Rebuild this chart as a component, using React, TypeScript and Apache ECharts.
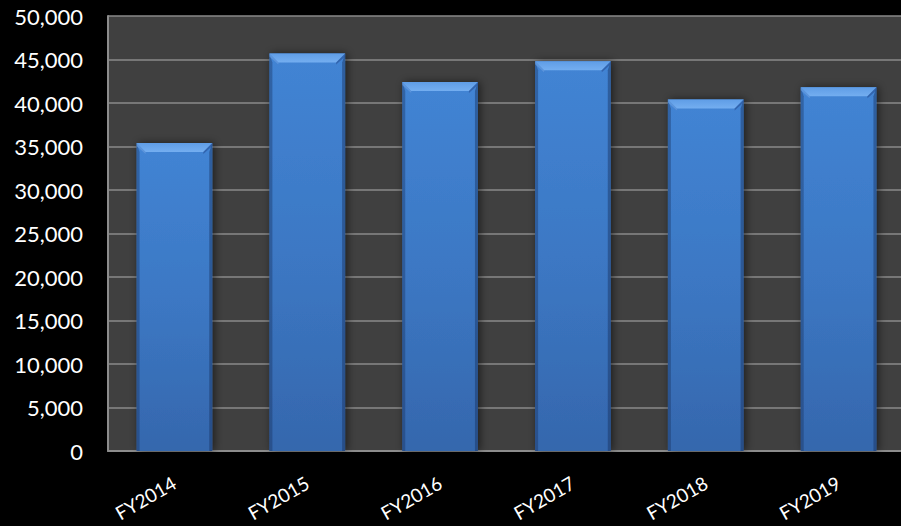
import React, { useEffect, useRef } from "react";
import * as echarts from "echarts";

const categories = ["FY2014", "FY2015", "FY2016", "FY2017", "FY2018", "FY2019"];
const values = [35400, 45700, 42400, 44800, 40400, 41800];
const yMin = 0;
const yMax = 50000;
const yStep = 5000;

const BAR_RATIO = 0.57;
const BEVEL = 9;

export default function App() {
  const ref = useRef<HTMLDivElement>(null);
  useEffect(() => {
    if (!ref.current) return;
    const chart = echarts.init(ref.current, null, { renderer: "svg" });
    const fmt = (v: number) => v.toLocaleString("en-US");
    chart.setOption({
      animation: false,
      backgroundColor: "#000000",
      textStyle: { fontFamily: "Lato, 'Open Sans', sans-serif" },
      grid: {
        left: 108,
        top: 16,
        right: 0,
        bottom: 75,
        show: true,
        backgroundColor: "#404040",
        borderWidth: 0,
        containLabel: false,
      },
      xAxis: {
        type: "category",
        data: categories,
        axisLine: { show: true, lineStyle: { color: "#8c8c8c", width: 2 } },
        axisTick: { show: false },
        axisLabel: {
          color: "#ffffff",
          fontSize: 19,
          rotate: 30,
          margin: 30,
          fontFamily: "Lato, sans-serif",
        },
        splitLine: { show: false },
      },
      yAxis: {
        type: "value",
        min: yMin,
        max: yMax,
        interval: yStep,
        axisLine: { show: true, lineStyle: { color: "#8c8c8c", width: 2 } },
        axisTick: { show: false },
        axisLabel: {
          color: "#ffffff",
          fontSize: 22,
          margin: 25,
          formatter: (v: number) => fmt(v),
          fontFamily: "Lato, sans-serif",
        },
        splitLine: { show: true, lineStyle: { color: "#8a8a8a", width: 1.5 } },
      },
      series: [
        {
          type: "bar",
          data: values,
          barWidth: "57%",
          itemStyle: {
            color: new echarts.graphic.LinearGradient(0, 0, 0, 1, [
              { offset: 0, color: "#4284d4" },
              { offset: 0.5, color: "#3c78c4" },
              { offset: 1, color: "#3567ad" },
            ]),
            shadowColor: "rgba(0,0,0,0.55)",
            shadowBlur: 8,
            shadowOffsetX: 2,
            shadowOffsetY: 0,
          },
        },
        {
          type: "custom",
          data: values.map((v, i) => [i, v]),
          silent: true,
          z: 3,
          renderItem: (params: any, api: any) => {
            const xi = api.value(0);
            const yv = api.value(1);
            const top = api.coord([xi, yv]);
            const base = api.coord([xi, 0]);
            const band = api.size([1, 0])[0];
            const w = band * BAR_RATIO;
            const l = top[0] - w / 2;
            const r = top[0] + w / 2;
            const t = top[1];
            const b = base[1];
            const bv = BEVEL;
            return {
              type: "group",
              children: [
                {
                  type: "polygon",
                  shape: { points: [[l, t], [l + 3, t + bv], [l + 3, b], [l, b]] },
                  style: { fill: "rgba(20,40,80,0.35)" },
                },
                {
                  type: "polygon",
                  shape: { points: [[r, t], [r - 3, t + bv], [r - 3, b], [r, b]] },
                  style: { fill: "rgba(20,40,80,0.4)" },
                },
                {
                  type: "polygon",
                  shape: { points: [[l, t], [r, t], [r - bv, t + bv], [l + bv, t + bv]] },
                  style: {
                    fill: new echarts.graphic.LinearGradient(0, 0, 0, 1, [
                      { offset: 0, color: "#5f9de6" },
                      { offset: 1, color: "#74aef0" },
                    ]),
                  },
                },
                {
                  type: "polygon",
                  shape: { points: [[l, t], [l + bv, t + bv], [l + bv, t + bv + 2], [l, t + 3]] },
                  style: { fill: "rgba(110,160,225,0.6)" },
                },
                {
                  type: "polygon",
                  shape: { points: [[r, t], [r - bv, t + bv], [r - bv, t + bv + 2], [r, t + 3]] },
                  style: { fill: "rgba(40,80,150,0.6)" },
                },
              ],
            };
          },
        },
      ],
    });
    return () => chart.dispose();
  }, []);
  return (
    <div style={{ position: "absolute", left: 0, top: 0, width: 901, height: 526, overflow: "hidden", background: "#000" }}>
      <div ref={ref} style={{ width: 905, height: 526 }} />
    </div>
  );
}
